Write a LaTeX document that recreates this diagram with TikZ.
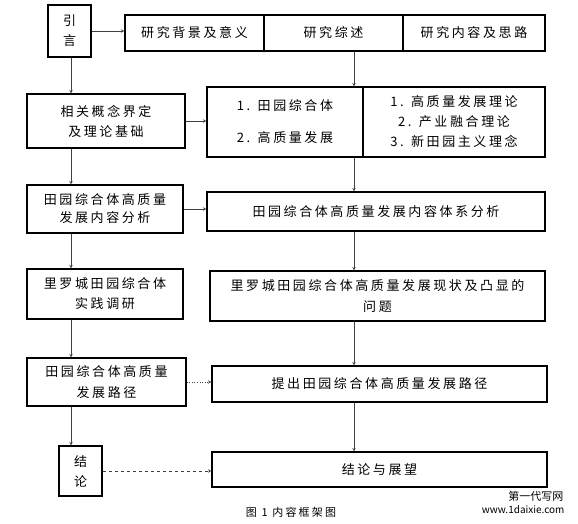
\documentclass[tikz,border=0pt]{standalone}
\usepackage{fontspec}
\newfontfamily\cjk[LetterSpace=20]{Noto Sans CJK SC}
\newfontfamily\cjkplain{Noto Sans CJK SC}
\usetikzlibrary{calc}
\usepackage{xcolor}

\begin{document}
\begin{tikzpicture}[x=1pt,y=-1pt,>=stealth,
    box/.style={draw,line width=1.1pt,inner sep=0pt,align=center,font=\cjk\fontsize{13}{20}\selectfont},
    link/.style={->,draw=black!75,line width=0.6pt}]
    \useasboundingbox (0,0) rectangle (578,524);
    \pgfmathsetmacro{\lx}{71}	%left column
    \pgfmathsetmacro{\rx}{354}	%right column
    \coordinate (lc) at (\lx,0);
    \coordinate (rc) at (\rx,0);

    % left column
    \node[box,minimum width=43pt,minimum height=52pt] (yy) at (69.5,31) {引\\言};
    \node[box,minimum width=158pt,minimum height=54pt] (xg) at (106,121) {相关概念界定\\及理论基础};
    \node[box,minimum width=156pt,minimum height=48pt] (nf) at (105,209) {田园综合体高质量\\[-2pt]发展内容分析};
    \node[box,minimum width=156pt,minimum height=50pt] (sj) at (105,294) {里罗城田园综合体\\实践调研};
    \node[box,minimum width=159pt,minimum height=48pt] (lj) at (106.5,382) {田园综合体高质量\\[1pt]发展路径};
    \node[box,minimum width=43pt,minimum height=50pt] (jl) at (80.5,471) {结\\论};

    % right column
    \node[box,minimum width=139pt,minimum height=36pt] (bg) at (194.5,33) {研究背景及意义};
    \node[box,minimum width=139pt,minimum height=36pt] (zs) at (333.5,33) {研究综述};
    \node[box,minimum width=142pt,minimum height=36pt] (nr) at (474,33) {研究内容及思路};
    \node[box,minimum width=156pt,minimum height=70pt] (gn) at (285,122) {1. 田园综合体\\[12pt]2. 高质量发展};
    \node[box,minimum width=182pt,minimum height=70pt] (ll) at (454,122) {1. 高质量发展理论\\2. 产业融合理论\\3. 新田园主义理念};
    \node[box,minimum width=338pt,minimum height=39pt] (tx) at (376,211.5) {田园综合体高质量发展内容体系分析};
    \node[box,minimum width=335pt,minimum height=50pt] (xz) at (377.5,296) {里罗城田园综合体高质量发展现状及凸显的\\[1pt]问题};
    \node[box,minimum width=335pt,minimum height=36pt] (tc) at (379.5,384) {提出田园综合体高质量发展路径};
    \node[box,minimum width=335pt,minimum height=35pt] (zw) at (379.5,469.5) {结论与展望};

    % vertical links
    \draw[link] (lc |- yy.south) -- (lc |- xg.north);
    \draw[link] (lc |- xg.south) -- (lc |- nf.north);
    \draw[link] (lc |- nf.south) -- (lc |- sj.north);
    \draw[link] (lc |- sj.south) -- (lc |- lj.north);
    \draw[link] (lc |- lj.south) -- (lc |- jl.north);
    \draw[link] (rc |- zs.south) -- (rc |- gn.north);
    \draw[link] (rc |- gn.south) -- (rc |- tx.north);
    \draw[link] (rc |- tx.south) -- (rc |- xz.north);
    \draw[link] (rc |- xz.south) -- (rc |- tc.north);
    \draw[link] (rc |- tc.south) -- (rc |- zw.north);

    % horizontal links
    \draw[link] (yy.east) -- (yy.east -| bg.west);
    \draw[link] (xg.east) -- (xg.east -| gn.west);
    \draw[link] (nf.east) -- (nf.east -| tx.west);
    \draw[link,dotted] (lj.east) -- (lj.east -| tc.west);
    \draw[link,dashed] (jl.east) -- (jl.east -| zw.west);

    \node[font=\cjk\fontsize{11}{11}\selectfont] (cap) at (291,512) {图 1 内容框架图};
    \node[font=\cjkplain\fontsize{11}{11}\selectfont,anchor=east] (wm1) at (567,496) {第一代写网};
    \node[font=\cjkplain\fontsize{10}{10}\selectfont,anchor=east] (wm2) at (568,510) {www.1daixie.com};
\end{tikzpicture}
\end{document}
